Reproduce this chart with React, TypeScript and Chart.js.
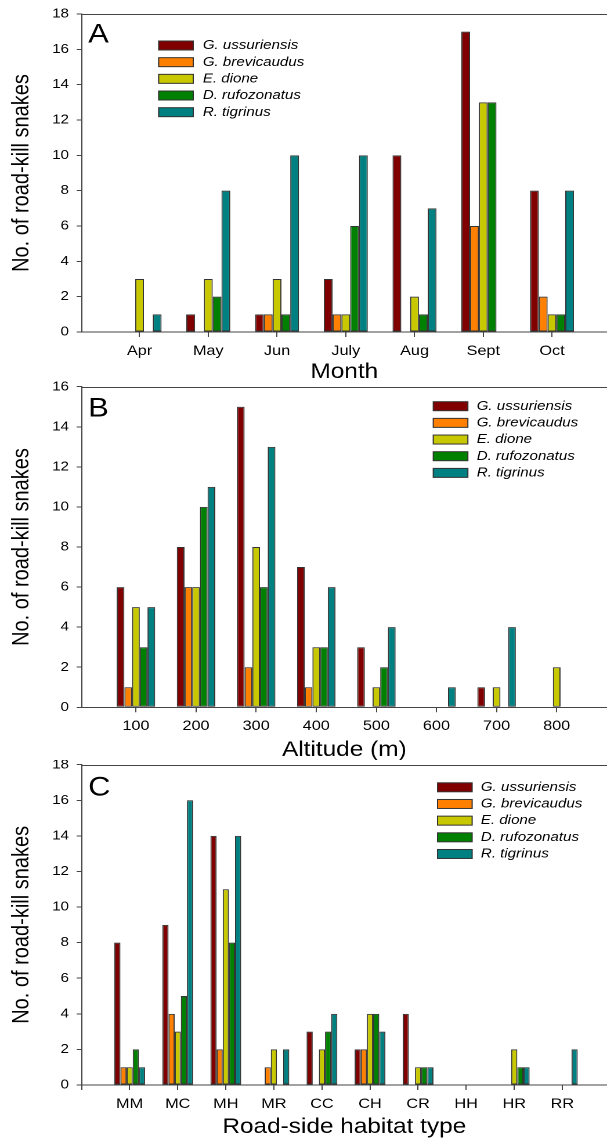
import React, { useEffect, useRef } from 'react';
import { Chart, registerables } from 'chart.js';

Chart.register(...registerables);

// ---------- data ----------
const SPECIES = ['G. ussuriensis', 'G. brevicaudus', 'E. dione', 'D. rufozonatus', 'R. tigrinus'];
const COLORS = ['#800000', '#ff8000', '#c8c800', '#008000', '#008080'];

const MONTHS = ['Apr', 'May', 'Jun', 'July', 'Aug', 'Sept', 'Oct'];
const MONTH_GU = [0, 1, 1, 3, 10, 17, 8];
const MONTH_GB = [0, 0, 1, 1, 0, 6, 2];
const MONTH_ED = [3, 3, 3, 1, 2, 13, 1];
const MONTH_DR = [0, 2, 1, 6, 1, 13, 1];
const MONTH_RT = [1, 8, 10, 10, 7, 0, 8];

const ALTITUDES = ['100', '200', '300', '400', '500', '600', '700', '800'];
const ALT_GU = [6, 8, 15, 7, 3, 0, 1, 0];
const ALT_GB = [1, 6, 2, 1, 0, 0, 0, 0];
const ALT_ED = [5, 6, 8, 3, 1, 0, 1, 2];
const ALT_DR = [3, 10, 6, 3, 2, 0, 0, 0];
const ALT_RT = [5, 11, 13, 6, 4, 1, 4, 0];

const HABITATS = ['MM', 'MC', 'MH', 'MR', 'CC', 'CH', 'CR', 'HH', 'HR', 'RR'];
const HAB_GU = [8, 9, 14, 0, 3, 2, 4, 0, 0, 0];
const HAB_GB = [1, 4, 2, 1, 0, 2, 0, 0, 0, 0];
const HAB_ED = [1, 3, 11, 2, 2, 4, 1, 0, 2, 0];
const HAB_DR = [2, 5, 8, 0, 3, 4, 1, 0, 1, 0];
const HAB_RT = [1, 16, 14, 2, 4, 3, 1, 0, 1, 2];

const Y_TITLE = 'No. of road-kill snakes';

// ---------- layout ----------
const FULL_W = 607;
const W = 523;
const SX = FULL_W / W;
const FONT = '"Liberation Sans", Arial, Helvetica, sans-serif';
const AXIS_COLOR = '#444';

type PanelCfg = {
  letter: string;
  labels: string[];
  series: number[][];
  xTitle: string;
  yMax: number;
  xMin: number;
  xMax: number;
  height: number;
  chartTop: number;
  chartBottom: number;
  letterBaseline: number;
  titleBaseline: number;
  legendBoxX: number;
  legendTextX: number;
  legendY: number;
};

const PANELS: PanelCfg[] = [
  {
    letter: 'A', labels: MONTHS, series: [MONTH_GU, MONTH_GB, MONTH_ED, MONTH_DR, MONTH_RT],
    xTitle: 'Month', yMax: 18, xMin: 0.157, xMax: 7.8, height: 380,
    chartTop: 14, chartBottom: 332, letterBaseline: 42.7, titleBaseline: 378,
    legendBoxX: 136.7, legendTextX: 174.7, legendY: 45.5,
  },
  {
    letter: 'B', labels: ALTITUDES, series: [ALT_GU, ALT_GB, ALT_ED, ALT_DR, ALT_RT],
    xTitle: 'Altitude (m)', yMax: 16, xMin: 0.096, xMax: 8.837, height: 380,
    chartTop: 6.7, chartBottom: 327.3, letterBaseline: 36.7, titleBaseline: 376,
    legendBoxX: 373.3, legendTextX: 410.7, legendY: 26.2,
  },
  {
    letter: 'C', labels: HABITATS, series: [HAB_GU, HAB_GB, HAB_ED, HAB_DR, HAB_RT],
    xTitle: 'Road-side habitat type', yMax: 18, xMin: 0, xMax: 10.93, height: 378,
    chartTop: 4.7, chartBottom: 325, letterBaseline: 35.5, titleBaseline: 373,
    legendBoxX: 377, legendTextX: 414.3, legendY: 27.3,
  },
];

function Panel({ cfg }: { cfg: PanelCfg }) {
  const ref = useRef<HTMLCanvasElement | null>(null);

  useEffect(() => {
    if (!ref.current) return;
    const datasets = cfg.series.map((vals, si) => ({
      label: SPECIES[si],
      data: vals.map((v, i) => ({ x: i + 1, y: v === 0 ? null : v })),
      backgroundColor: COLORS[si],
      borderColor: '#333',
      borderWidth: 1,
      borderSkipped: false,
      categoryPercentage: 0.64,
      barPercentage: 1.0,
    }));

    const decor = {
      id: 'decor',
      afterDraw(chart: any) {
        const { ctx, chartArea: ca } = chart;
        ctx.save();
        // top frame line
        ctx.strokeStyle = AXIS_COLOR;
        ctx.lineWidth = 1;
        ctx.beginPath();
        const ty = Math.round(ca.top) + 0.5;
        ctx.moveTo(ca.left, ty);
        ctx.lineTo(chart.width, ty);
        ctx.stroke();

        ctx.fillStyle = '#000';
        // panel letter
        ctx.font = `26.5px ${FONT}`;
        ctx.textAlign = 'left';
        ctx.textBaseline = 'alphabetic';
        ctx.fillText(cfg.letter, 76, cfg.letterBaseline);

        // y title
        ctx.save();
        ctx.translate(24.4, (ca.top + ca.bottom) / 2);
        ctx.rotate(-Math.PI / 2);
        ctx.font = `20px ${FONT}`;
        ctx.textAlign = 'center';
        ctx.textBaseline = 'alphabetic';
        ctx.fillText(Y_TITLE, 0, 0);
        ctx.restore();

        // x title
        ctx.font = `21px ${FONT}`;
        ctx.textAlign = 'center';
        ctx.textBaseline = 'alphabetic';
        ctx.fillText(cfg.xTitle, (ca.left + ca.right) / 2, cfg.titleBaseline);

        // legend
        chart.data.datasets.forEach((ds: any, i: number) => {
          const cy = cfg.legendY + i * 16.67;
          ctx.fillStyle = ds.backgroundColor;
          ctx.fillRect(cfg.legendBoxX, cy - 4.5, 29.8, 9);
          ctx.strokeStyle = '#333';
          ctx.lineWidth = 1;
          ctx.strokeRect(cfg.legendBoxX, cy - 4.5, 29.8, 9);
          ctx.fillStyle = '#000';
          ctx.font = `italic 13px ${FONT}`;
          ctx.textAlign = 'left';
          ctx.textBaseline = 'middle';
          ctx.fillText(ds.label, cfg.legendTextX, cy);
        });
        ctx.restore();
      },
    };

    const chart = new Chart(ref.current, {
      type: 'bar',
      data: { datasets: datasets as any },
      options: {
        animation: false,
        responsive: true,
        maintainAspectRatio: false,
        devicePixelRatio: 2,
        events: [],
        layout: { padding: { top: cfg.chartTop, left: 0, right: 0, bottom: 0 } },
        plugins: { legend: { display: false }, tooltip: { enabled: false } },
        scales: {
          x: {
            type: 'linear',
            offset: false,
            min: cfg.xMin,
            max: cfg.xMax,
            afterFit: (s: any) => {
              s.height = cfg.height - cfg.chartBottom;
              s.paddingLeft = 0;
              s.paddingRight = 0;
            },
            grid: {
              display: true,
              offset: false,
              drawOnChartArea: false,
              drawTicks: true,
              tickLength: 5,
              color: AXIS_COLOR,
              lineWidth: 1,
            },
            border: { display: true, color: AXIS_COLOR, width: 1 },
            ticks: {
              stepSize: 1,
              includeBounds: false,
              autoSkip: false,
              maxRotation: 0,
              maxTicksLimit: 30,
              padding: 5.5,
              color: '#000',
              font: { family: FONT, size: 14 },
              callback: (v: any) => {
                const n = Number(v);
                if (!Number.isInteger(n)) return '';
                return cfg.labels[n - 1] ?? '';
              },
            },
          },
          y: {
            type: 'linear',
            min: 0,
            max: cfg.yMax,
            afterFit: (s: any) => {
              s.width = 70.3;
              s.paddingTop = 0;
              s.paddingBottom = 0;
            },
            grid: {
              display: true,
              drawOnChartArea: false,
              drawTicks: true,
              tickLength: 4.3,
              color: AXIS_COLOR,
              lineWidth: 1,
            },
            border: { display: true, color: AXIS_COLOR, width: 1 },
            ticks: {
              stepSize: 2,
              padding: 6.6,
              color: '#000',
              font: { family: FONT, size: 13 },
            },
          },
        },
      } as any,
      plugins: [decor],
    });
    return () => chart.destroy();
  }, [cfg]);

  return (
    <div
      style={{
        position: 'relative',
        width: W,
        height: cfg.height,
        transform: `scaleX(${SX})`,
        transformOrigin: '0 0',
      }}
    >
      <canvas ref={ref} />
    </div>
  );
}

export default function App() {
  return (
    <div
      style={{
        position: 'absolute',
        left: 0,
        top: 0,
        width: FULL_W,
        height: 1138,
        overflow: 'hidden',
        background: '#fff',
      }}
    >
      {PANELS.map((p) => (
        <Panel key={p.letter} cfg={p} />
      ))}
    </div>
  );
}
